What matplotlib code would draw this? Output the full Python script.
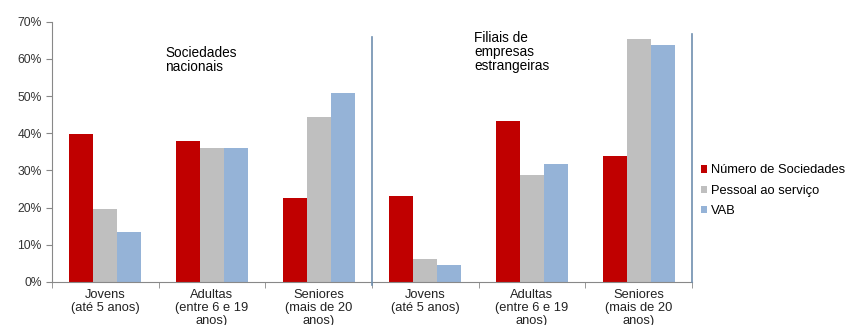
import numpy as np
import matplotlib
matplotlib.use("Agg")
import matplotlib.pyplot as plt
from matplotlib.ticker import PercentFormatter

plt.rcParams["font.family"] = ["Liberation Sans", "DejaVu Sans"]

# data (shares, %)
categories = [
    "Jovens\n(até 5 anos)",
    "Adultas\n(entre 6 e 19\nanos)",
    "Seniores\n(mais de 20\nanos)",
    "Jovens\n(até 5 anos)",
    "Adultas\n(entre 6 e 19\nanos)",
    "Seniores\n(mais de 20\nanos)",
]
num_sociedades = [39.8, 37.9, 22.7, 23.2, 43.4, 33.8]
pessoal_servico = [19.5, 36.0, 44.5, 6.2, 28.8, 65.4]
vab = [13.4, 36.0, 50.9, 4.6, 31.7, 63.8]
series_names = ["Número de Sociedades", "Pessoal ao serviço", "VAB"]
colors = ["#C00000", "#BFBFBF", "#95B3D7"]
panel_titles = ["Sociedades\nnacionais", "Filiais de\nempresas\nestrangeiras"]

fig = plt.figure(figsize=(8.56, 3.25), dpi=100)
ax = fig.add_axes([52 / 856, 1 - 282 / 325, 640 / 856, (282 - 21.7) / 325])

x = np.arange(len(categories))
w = 0.225
for i, (vals, name, c) in enumerate(zip([num_sociedades, pessoal_servico, vab], series_names, colors)):
    ax.bar(x + (i - 1) * w, vals, width=w, color=c, label=name, zorder=2)

ax.set_xlim(-0.5, len(categories) - 0.5)
ax.set_ylim(0, 70)
ax.set_yticks(np.arange(0, 71, 10))
ax.yaxis.set_major_formatter(PercentFormatter(decimals=0))

ax.set_xticks(x)
ax.set_xticklabels(categories, fontsize=9.3, color="#222222", linespacing=1.1)
ax.tick_params(axis="x", which="major", length=0, pad=5)
ax.set_xticks(np.arange(-0.5, len(categories), 1.0), minor=True)
ax.tick_params(axis="x", which="minor", length=4, color="#888888")
ax.tick_params(axis="y", length=4, color="#888888", labelsize=8.7, labelcolor="#333333")

for s in ["top", "right"]:
    ax.spines[s].set_visible(False)
for s in ["left", "bottom"]:
    ax.spines[s].set_color("#888888")

# panel separators
ax.plot([2.5, 2.5], [-0.8, 65.8], color="#6F8FAF", lw=1.2, clip_on=False, zorder=3)
ax.plot([5.5, 5.5], [0, 66.8], color="#6F8FAF", lw=1.2, clip_on=False, zorder=3)

ax.text(0.56, 63.5, panel_titles[0], fontsize=9.8, va="top", ha="left", linespacing=1.0)
ax.text(3.46, 67.6, panel_titles[1], fontsize=9.8, va="top", ha="left", linespacing=1.0)

ax.legend(loc="center left", bbox_to_anchor=(1.006, 0.35), frameon=False,
          fontsize=9.3, handlelength=0.5, handleheight=0.5, handletextpad=0.25,
          labelspacing=0.65, borderaxespad=0)

fig.savefig("out.png", dpi=100)
